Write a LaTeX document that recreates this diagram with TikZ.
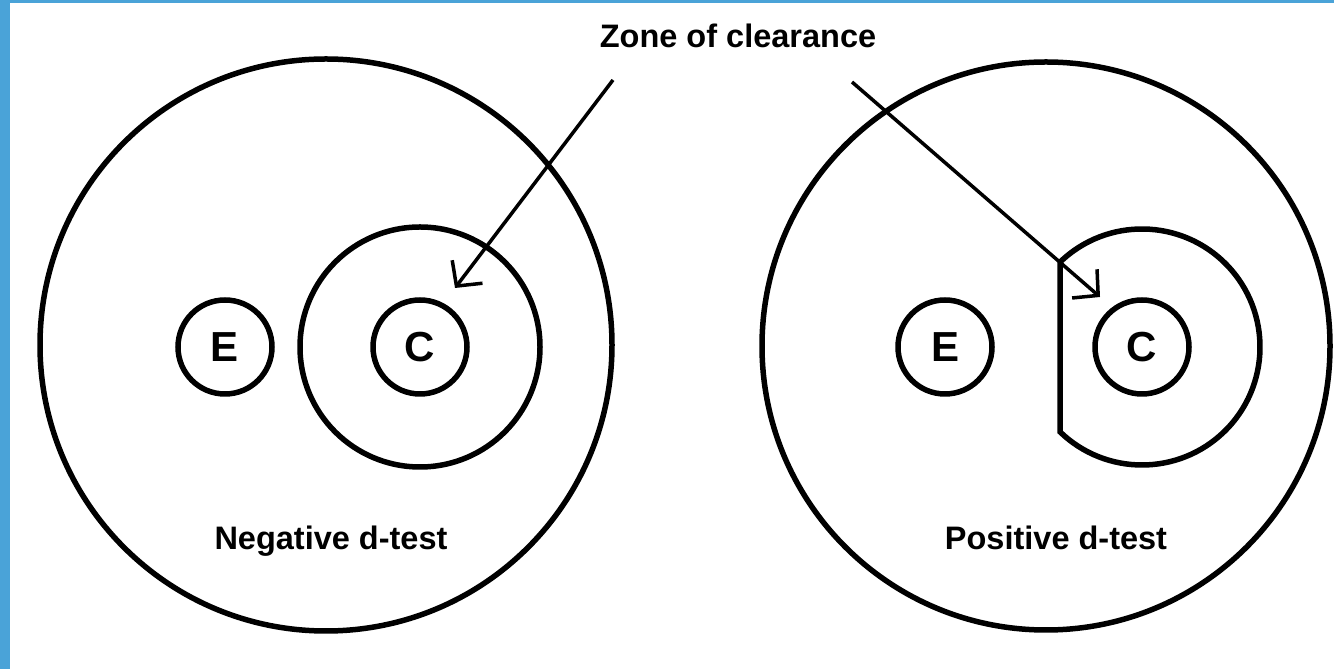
\documentclass[tikz,border=0pt]{standalone}
\usepackage{fontspec}
\setmainfont{Liberation Sans}
\usetikzlibrary{arrows.meta,calc}
\definecolor{frameblue}{HTML}{4AA3D8}

\begin{document}
\begin{tikzpicture}[x=1pt,y=1pt,
  ring/.style={circle,draw,line width=5.5pt,inner sep=0pt,minimum size=#1},
  letter/.style={font=\fontsize{42}{50}\selectfont\bfseries},
  caption/.style={font=\fontsize{32.5}{39}\selectfont\bfseries,inner sep=0pt,anchor=base},
  pointer/.style={line width=3.5pt,-{Straight Barb[length=18pt,width=38pt,line width=3.5pt]}}]
\useasboundingbox (0,0) rectangle (1334,669);
\fill[frameblue] (0,0) rectangle (10,669);
\fill[frameblue] (0,666) rectangle (1334,669);
% negative test
\node[ring=572pt] (negBig) at (326,324) {};
\node[ring=94pt,letter] (negE) at (225,322) {E};
\node[ring=94pt,letter] (negC) at (420,322) {C};
\node[ring=240pt] (negZone) at (420,322) {};
\node[caption] (negLabel) at (331,119) {Negative d-test};
% positive test
\node[ring=568pt] (posBig) at (1046,323) {};
\node[ring=94pt,letter] (posE) at (945,322) {E};
\node[ring=94pt,letter] (posC) at (1142,322) {C};
\coordinate (posZone) at (1142,322);
\draw[line width=5.5pt] ($(posZone)+(134:118)$) arc[start angle=134,end angle=-134,radius=118] -- cycle;
\node[caption] (posLabel) at (1056,119) {Positive d-test};
% zone label and arrows
\node[caption] (zoneLabel) at (738,621) {Zone of clearance};
\coordinate (negFrom) at (613,589);
\coordinate (negTip) at (455,381);
\coordinate (posFrom) at (852,587);
\coordinate (posTip) at (1100,372);
\draw[pointer] (negFrom) -- (negTip);
\draw[pointer] (posFrom) -- (posTip);
\end{tikzpicture}
\end{document}
